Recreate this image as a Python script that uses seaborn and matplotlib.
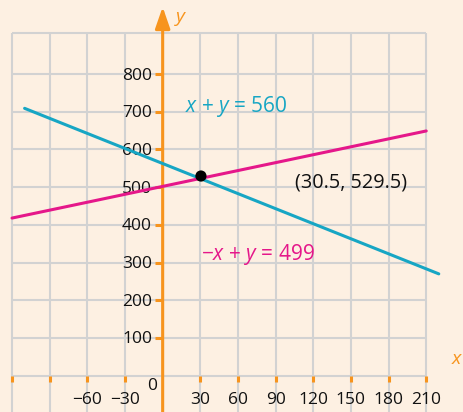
import matplotlib
matplotlib.use("Agg")
import matplotlib.pyplot as plt
import seaborn as sns
import pandas as pd

# Values
x_ticks = [-120, -90, -60, -30, 30, 60, 90, 120, 150, 180, 210]
x_tick_labels = ["", "", "−60", "−30", "30", "60", "90", "120", "150", "180", "210"]
y_ticks = [100, 200, 300, 400, 500, 600, 700, 800]
y_tick_labels = ["100", "200", "300", "400", "500", "600", "700", "800"]

line_a_x = [-110, 220]
line_a_y = [709, 270]
line_a_label = "$x$ + $y$ = 560"

line_b_x = [-120, 210]
line_b_y = [418, 649]
line_b_label = "−$x$ + $y$ = 499"

point_x = [30.5]
point_y = [529.5]
point_label = "(30.5, 529.5)"

# Styling
BG = "#fdf0e2"
GRID = "#d2d2d2"
ORANGE = "#f7941d"
BLUE = "#17a6c4"
PINK = "#e5178a"

sns.set_theme(style="white")
plt.rcParams["font.family"] = ["Open Sans", "DejaVu Sans"]
plt.rcParams["mathtext.fontset"] = "custom"
plt.rcParams["mathtext.it"] = "Open Sans:italic"
plt.rcParams["mathtext.rm"] = "Open Sans"

fig = plt.figure(figsize=(4.63, 4.12), dpi=100, facecolor=BG)
ax = fig.add_axes([0, 0, 1, 1])
ax.set_facecolor(BG)

# Grid
grid_xs = list(range(-120, 211, 30))
grid_ys = list(range(0, 801, 100)) + [910]
ax.vlines(grid_xs, -100, 910, color=GRID, lw=1.5, zorder=1)
ax.hlines(grid_ys, -120, 210, color=GRID, lw=1.5, zorder=1)

# Axes with arrows
arrow_style = dict(arrowstyle="-|>,head_length=1.3,head_width=0.45",
                   color=ORANGE, lw=2.2, mutation_scale=10, shrinkA=0, shrinkB=0)
ax.annotate("", xy=(245, 0), xytext=(-120, 0), arrowprops=arrow_style, zorder=3)
ax.annotate("", xy=(0, 978), xytext=(0, -100), arrowprops=arrow_style, zorder=3)

# Tick marks and labels
ax.vlines(x_ticks, -18, 0, color=ORANGE, lw=2.2, zorder=3)
ax.hlines(y_ticks, -6, 0, color=ORANGE, lw=2.2, zorder=3)
for xv, lab in zip(x_ticks, x_tick_labels):
    if lab:
        ax.text(xv, -64, lab, ha="center", va="center", fontsize=12.5, color="#111111", zorder=2)
for yv, lab in zip(y_ticks, y_tick_labels):
    ax.text(-8.5, yv - 4, lab, ha="right", va="center", fontsize=12.5, color="#111111", zorder=2)
ax.text(-8.5, -28, "0", ha="center", va="center", fontsize=12.5, color="#111111", zorder=2)

ax.text(14.6, 946, "$y$", ha="center", va="center", fontsize=14, color=ORANGE)
ax.text(234.5, 44, "$x$", ha="center", va="center", fontsize=14, color=ORANGE)

# Lines and intersection point
df_a = pd.DataFrame({"x": line_a_x, "y": line_a_y})
df_b = pd.DataFrame({"x": line_b_x, "y": line_b_y})
sns.lineplot(data=df_a, x="x", y="y", color=BLUE, lw=2.2, ax=ax, zorder=4)
sns.lineplot(data=df_b, x="x", y="y", color=PINK, lw=2.2, ax=ax, zorder=4)
sns.scatterplot(x=point_x, y=point_y, color="black", s=65, edgecolor="none", ax=ax, zorder=5)
ax.set_xlim(-129.6, 239.3)
ax.set_ylim(-96.3, 996.3)
ax.axis("off")

ax.text(17.8, 713, line_a_label, ha="left", va="center", fontsize=15, color=BLUE)
ax.text(76, 322, line_b_label, ha="center", va="center", fontsize=15, color=PINK)
ax.text(149.8, 513, point_label, ha="center", va="center", fontsize=14.3, color="#111111")

fig.savefig("out.png", dpi=100, facecolor=BG)
